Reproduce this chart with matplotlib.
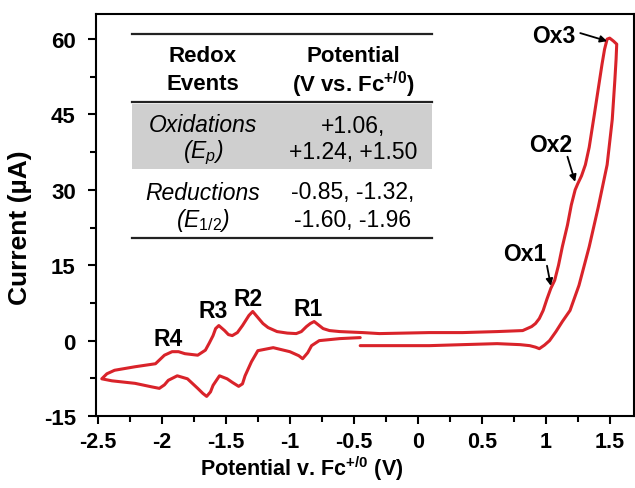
import numpy as np
import matplotlib
matplotlib.use("Agg")
import matplotlib.pyplot as plt
from matplotlib.transforms import Affine2D
from matplotlib.lines import Line2D
from matplotlib.patches import Rectangle

plt.rcParams['font.family'] = ['Liberation Sans', 'DejaVu Sans']
plt.rcParams['mathtext.fontset'] = 'custom'
plt.rcParams['mathtext.rm'] = 'Liberation Sans'
plt.rcParams['mathtext.it'] = 'Liberation Sans:italic'
plt.rcParams['mathtext.bf'] = 'Liberation Sans:bold'
plt.rcParams['axes.unicode_minus'] = False

# ---- data ----
potential_V = [
    -0.45, -0.2, 0.09, 0.35, 0.62, 0.80, 0.875, 0.92, 0.95, 0.99, 1.03, 1.08, 1.13, 1.19,
    1.26, 1.34, 1.41, 1.48, 1.52, 1.54, 1.55, 1.555, 1.53, 1.50, 1.48,
    1.46, 1.44, 1.41, 1.38, 1.34, 1.31, 1.28, 1.25, 1.23, 1.20, 1.17, 1.13, 1.10, 1.07,
    1.04, 1.01, 0.98, 0.95, 0.92, 0.89, 0.82, 0.62, 0.35, 0.09, -0.30,
    -0.43, -0.61, -0.69, -0.74, -0.78, -0.81, -0.84, -0.87, -0.91, -0.95, -1.02, -1.10,
    -1.17, -1.21, -1.25, -1.29, -1.32, -1.37, -1.41, -1.45, -1.48, -1.51, -1.555, -1.58,
    -1.60, -1.63, -1.66, -1.72, -1.82, -1.87, -1.92, -1.98, -2.05, -2.21, -2.37, -2.43, -2.47,
    -2.39, -2.21, -2.08, -2.02, -1.98, -1.95, -1.88, -1.80, -1.72, -1.68, -1.65, -1.62,
    -1.60, -1.55, -1.49, -1.45, -1.40, -1.37, -1.35, -1.30, -1.25, -1.13, -1.00, -0.93,
    -0.90, -0.86, -0.83, -0.77, -0.61, -0.45,
]
current_uA = [
    -1.0, -1.0, -1.0, -0.8, -0.6, -0.8, -1.0, -1.3, -1.6, -0.9, 0.0, 1.8, 3.8, 6.0,
    11.0, 18.7, 26.5, 35.0, 44.0, 51.7, 56.0, 59.0, 59.6, 60.2, 60.0,
    58.0, 55.0, 50.0, 45.0, 38.5, 35.0, 32.8, 31.2, 30.0, 27.0, 23.0, 18.7, 15.0, 12.0,
    10.4, 8.3, 6.0, 4.4, 3.4, 2.8, 2.0, 1.8, 1.6, 1.6, 1.4,
    1.6, 1.8, 2.0, 2.4, 3.2, 3.8, 3.4, 2.8, 1.8, 1.4, 1.5, 1.8,
    2.6, 3.4, 4.6, 5.8, 5.0, 3.0, 1.6, 1.0, 1.2, 2.0, 3.0, 2.4,
    1.0, -0.5, -1.9, -2.9, -2.6, -2.2, -2.2, -2.9, -4.6, -5.2, -5.9, -6.6, -7.6,
    -8.0, -8.5, -9.2, -9.5, -8.8, -7.9, -7.0, -7.6, -9.5, -10.5, -11.1, -10.2,
    -8.9, -7.0, -7.6, -8.3, -9.1, -8.6, -7.0, -4.2, -2.0, -1.4, -2.2, -3.0,
    -3.6, -2.4, -1.0, 0.0, 0.4, 0.6,
]

x_ticks = [-2.5, -2, -1.5, -1, -0.5, 0, 0.5, 1, 1.5]
x_tick_labels = ['-2.5', '-2', '-1.5', '-1', '-0.5', '0', '0.5', '1', '1.5']
y_ticks = [-15, 0, 15, 30, 45, 60]
y_tick_labels = ['-15', '0', '15', '30', '45', '60']

peak_labels = ['R4', 'R3', 'R2', 'R1']
peak_label_x = [-1.95, -1.60, -1.33, -0.86]
peak_label_y = [0.4, 6.0, 8.3, 6.4]

ox_labels = ['Ox1', 'Ox2', 'Ox3']
ox_text_xy = [(0.84, 17.3), (1.04, 39.0), (1.06, 60.8)]
ox_arrow_start = [(1.01, 14.9), (1.17, 36.6), (1.27, 61.2)]
ox_arrow_tip = [(1.04, 10.9), (1.23, 31.6), (1.48, 59.6)]

table_header = [['Redox', 'Events'], ['Potential', r'(V vs. Fc$^{\mathbf{+/0}}$)']]
table_rows_left = [['Oxidations', r'($E_{p}$)'], ['Reductions', r'($E_{\mathit{1/2}}$)']]
table_rows_right = [['+1.06,', '+1.24, +1.50'], ['-0.85, -1.32,', '-1.60, -1.96']]

# ---- figure ----
W, H = 635, 489
fig = plt.figure(figsize=(W / 100, H / 100), dpi=100)
L, R, B, T = 96, 634, 417, 15
ax = fig.add_axes([L / W, 1 - B / H, (R - L) / W, (B - T) / H])

red = '#d9232a'
ax.plot(potential_V, current_uA, color=red, lw=2.2, solid_joinstyle='round',
        solid_capstyle='round')

ax.set_xlim(-2.515, 1.69)
ax.set_ylim(-15, 65)
ax.set_xticks(x_ticks)
ax.set_xticklabels(x_tick_labels)
ax.set_yticks(y_ticks)
ax.set_yticklabels(y_tick_labels)
ax.set_xticks(np.arange(-2.5, 1.51, 0.25), minor=True)
ax.set_yticks(np.arange(-15, 61, 7.5), minor=True)
ax.tick_params(axis='both', which='major', direction='out', length=5.5, width=1.5)
ax.tick_params(axis='both', which='minor', direction='out', length=4, width=1.5)
ax.tick_params(axis='y', which='major', pad=9, labelsize=16)
ax.tick_params(axis='x', which='major', pad=5, labelsize=15.5)
for lab in ax.get_xticklabels() + ax.get_yticklabels():
    lab.set_fontweight('bold')
for s in ax.spines.values():
    s.set_linewidth(1.5)

pix = Affine2D().scale(1 / W, -1 / H).translate(0, 1) + fig.transFigure

fig.text(302, 469, r'Potential v. Fc$^{\mathbf{+/0}}$ (V)', transform=pix, ha='center',
         va='center', fontsize=15.5, fontweight='bold')
fig.text(20, 228, 'Current (µA)', transform=pix, ha='center', va='center',
         rotation=90, fontsize=19, fontweight='bold')

for lab, x, y in zip(peak_labels, peak_label_x, peak_label_y):
    ax.text(x, y, lab, ha='center', va='center', fontsize=16.5, fontweight='bold')

for lab, txy, a0, a1 in zip(ox_labels, ox_text_xy, ox_arrow_start, ox_arrow_tip):
    ax.text(txy[0], txy[1], lab, ha='center', va='center', fontsize=16.5,
            fontweight='bold')
    ax.annotate('', xy=a1, xytext=a0,
                arrowprops=dict(arrowstyle='-|>', color='black', lw=1.3,
                                mutation_scale=10, shrinkA=0, shrinkB=0))

# ---- table ----
fig.add_artist(Rectangle((132, 105), 300, 65, transform=pix, facecolor='#cfcfcf',
                         edgecolor='none'))
for yy in (35, 103, 239):
    fig.add_artist(Line2D([132, 432], [yy, yy], transform=pix, color='#222222',
                          lw=1.6))
cx_left, cx_right = 203, 353
for i, yy in enumerate((57, 85)):
    fig.text(cx_left, yy, table_header[0][i], transform=pix, ha='center',
             va='center', fontsize=16, fontweight='bold')
    fig.text(cx_right, yy, table_header[1][i], transform=pix, ha='center',
             va='center', fontsize=16, fontweight='bold')
row_y = [(126, 153), (193, 220)]
for r in range(2):
    for i in range(2):
        fig.text(cx_left, row_y[r][i], table_rows_left[r][i], transform=pix,
                 ha='center', va='center', fontsize=16.5, fontstyle='italic')
        fig.text(cx_right, row_y[r][i], table_rows_right[r][i], transform=pix,
                 ha='center', va='center', fontsize=16.5)

fig.savefig('out.png', dpi=100)
